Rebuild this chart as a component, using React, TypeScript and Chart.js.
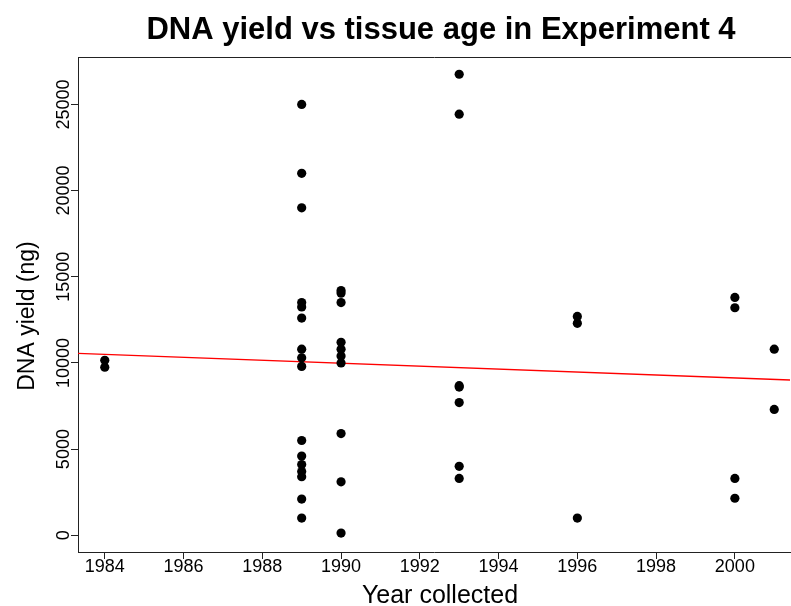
import React, { useEffect, useRef } from "react";
import { Chart, registerables } from "chart.js";

Chart.register(...registerables);

const chartTitle = "DNA yield vs tissue age in Experiment 4";
const xAxisTitle = "Year collected";
const yAxisTitle = "DNA yield (ng)";

const xTickValues = [1984, 1986, 1988, 1990, 1992, 1994, 1996, 1998, 2000];
const yTickValues = [0, 5000, 10000, 15000, 20000, 25000];

const collectionYears = [
  1984, 1984,
  1989, 1989, 1989, 1989, 1989, 1989, 1989, 1989, 1989, 1989, 1989, 1989, 1989, 1989, 1989, 1989,
  1990, 1990, 1990, 1990, 1990, 1990, 1990, 1990, 1990, 1990,
  1993, 1993, 1993, 1993, 1993, 1993, 1993,
  1996, 1996, 1996,
  2000, 2000, 2000, 2000,
  2001, 2001,
];
const dnaYields = [
  10150, 9750,
  25000, 21000, 19000, 13500, 13250, 12600, 10800, 10300, 9800, 5500, 4600, 4100, 3700, 3400, 2100, 1000,
  14200, 14050, 13500, 11200, 10800, 10400, 10000, 5900, 3100, 130,
  26750, 24430, 8680, 8600, 7700, 4000, 3300,
  12700, 12300, 1000,
  13800, 13200, 3300, 2150,
  10800, 7300,
];

// fitted regression line
const fitLineYears = [1983, 2002];
const fitLineYields = [10587, 8957];

const FONT = "'Liberation Sans', Arial, Helvetica, sans-serif";

export default function App() {
  const canvasRef = useRef<HTMLCanvasElement | null>(null);

  useEffect(() => {
    const canvas = canvasRef.current;
    if (!canvas) return;

    const textPlugin = {
      id: "rText",
      afterDraw(chart: any) {
        const ctx = chart.ctx;
        const area = chart.chartArea;
        const xs = chart.scales.x;
        const ys = chart.scales.y;
        ctx.save();
        // top border of the box
        ctx.strokeStyle = "#222";
        ctx.lineWidth = 1;
        ctx.beginPath();
        ctx.moveTo(area.left, Math.round(area.top) + 0.5);
        ctx.lineTo(chart.width, Math.round(area.top) + 0.5);
        ctx.stroke();

        ctx.fillStyle = "#000";
        // title
        ctx.font = `bold 31px ${FONT}`;
        ctx.textAlign = "center";
        ctx.textBaseline = "alphabetic";
        ctx.fillText(chartTitle, 441, 39);

        // x tick labels
        ctx.font = `18px ${FONT}`;
        xTickValues.forEach((v) => {
          ctx.fillText(String(v), xs.getPixelForValue(v), 572);
        });

        // x axis title
        ctx.font = `25px ${FONT}`;
        ctx.fillText(xAxisTitle, 440, 603);

        // y tick labels (rotated)
        ctx.font = `18px ${FONT}`;
        yTickValues.forEach((v) => {
          ctx.save();
          ctx.translate(69, ys.getPixelForValue(v));
          ctx.rotate(-Math.PI / 2);
          ctx.fillText(String(v), 0, 0);
          ctx.restore();
        });

        // y axis title
        ctx.font = `23px ${FONT}`;
        ctx.save();
        ctx.translate(34, 316);
        ctx.rotate(-Math.PI / 2);
        ctx.fillText(yAxisTitle, 0, 0);
        ctx.restore();

        ctx.restore();
      },
    };

    const chart = new Chart(canvas, {
      type: "scatter",
      data: {
        datasets: [
          {
            label: "fit",
            type: "line",
            data: fitLineYears.map((x, i) => ({ x, y: fitLineYields[i] })),
            borderColor: "#FF0000",
            borderWidth: 1.3,
            pointRadius: 0,
            fill: false,
            order: 2,
          } as any,
          {
            label: "samples",
            data: collectionYears.map((x, i) => ({ x, y: dnaYields[i] })),
            backgroundColor: "#000",
            borderColor: "#000",
            borderWidth: 0,
            pointRadius: 4.6,
            pointHoverRadius: 4.6,
            order: 1,
          },
        ],
      },
      options: {
        responsive: false,
        animation: false,
        devicePixelRatio: 1,
        layout: { autoPadding: false, padding: { top: 57, left: 0, right: 1, bottom: 0 } },
        plugins: {
          legend: { display: false },
          title: { display: false },
          tooltip: { enabled: false },
        },
        scales: {
          x: {
            type: "linear",
            min: 1983.32,
            max: 2001.4,
            afterBuildTicks: (s: any) => {
              s.ticks = xTickValues.map((value) => ({ value }));
            },
            afterFit: (s: any) => {
              s.height = 54;
            },
            grid: {
              drawOnChartArea: false,
              drawTicks: true,
              tickLength: 7,
              tickColor: "#222",
              tickWidth: 1,
            },
            border: { display: true, color: "#222", width: 1 },
            ticks: { display: false },
          },
          y: {
            type: "linear",
            min: -970,
            max: 27750,
            afterBuildTicks: (s: any) => {
              s.ticks = yTickValues.map((value) => ({ value }));
            },
            afterFit: (s: any) => {
              s.width = 78;
            },
            grid: {
              drawOnChartArea: false,
              drawTicks: true,
              tickLength: 7,
              tickColor: "#222",
              tickWidth: 1,
            },
            border: { display: true, color: "#222", width: 1 },
            ticks: { display: false },
          },
        },
      },
      plugins: [textPlugin],
    });

    return () => chart.destroy();
  }, []);

  return (
    <div style={{ position: "absolute", left: 0, top: 0, width: 791, height: 606, background: "#fff" }}>
      <canvas ref={canvasRef} width={791} height={606} />
    </div>
  );
}
